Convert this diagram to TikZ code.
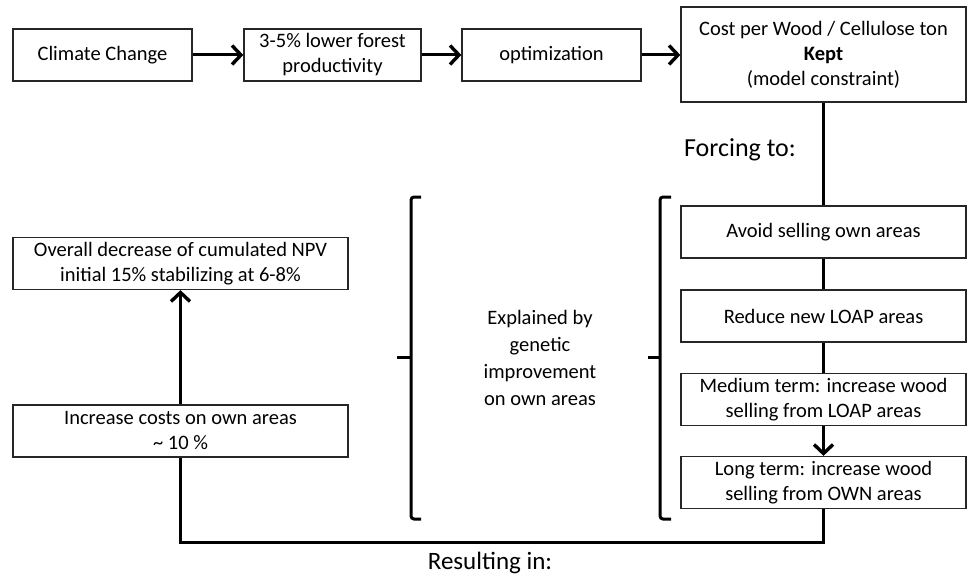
\documentclass[tikz,border=0pt]{standalone}
\usepackage{fontspec}
\setmainfont{Carlito}
\usetikzlibrary{arrows.meta}

\begin{document}
\begin{tikzpicture}
		[x=1pt,y=-1pt,
		box/.style={draw=black!85,line width=1.3pt,minimum height=52pt,
			align=center,inner sep=2pt,font=\fontsize{20.5}{25}\selectfont},
		link/.style={line width=3pt},
		arr/.style={link,-{Straight Barb[length=9pt,width=19pt,line width=3.4pt]}},
		brk/.style={line width=3pt,rounded corners=3pt},
		big/.style={anchor=base,font=\fontsize{26}{30}\selectfont}]
		\useasboundingbox (0,0) rectangle (967,578);
		\node[box,minimum width=179pt] (cc) at (102.5,55) {Climate Change};
		\node[box,minimum width=177pt] (prod) at (332.5,55) {3-5\% lower forest\\productivity};
		\node[box,minimum width=179pt] (opt) at (551.5,55) {optimization};
		\node[box,minimum width=285pt,minimum height=95pt] (cost) at (823.5,54.5)
			{Cost per Wood / Cellulose ton\\\textbf{Kept}\\(model constraint)};
		\node[box,minimum width=285pt] (avoid) at (823.5,232) {Avoid selling own areas};
		\node[box,minimum width=285pt] (reduce) at (823.5,316) {Reduce new LOAP areas};
		\node[box,minimum width=285pt] (medium) at (823.5,399.5)
			{Medium term: increase wood\\selling from LOAP areas};
		\node[box,minimum width=285pt] (long) at (823.5,482.5)
			{Long term: increase wood\\selling from OWN areas};
		\node[box,minimum width=335pt] (overall) at (180.5,263.5)
			{Overall decrease of cumulated NPV\\initial 15\% stabilizing at 6-8\%};
		\node[box,minimum width=335pt] (inc) at (180.5,431)
			{Increase costs on own areas\\\textasciitilde{} 10 \%};
		\node[big] (forcing) at (740,156) {Forcing to:};
		\node[big,font=\fontsize{25}{30}\selectfont] (result) at (490,569) {Resulting in:};
		\node[align=center,font=\fontsize{20.5}{27}\selectfont] (expl) at (540,358)
			{Explained by\\genetic\\improvement\\on own areas};
		\draw[arr] (cc) -- (prod);
		\draw[arr] (prod) -- (opt);
		\draw[arr] (opt.east) -- (opt.east -| cost.west);
		\draw[link] (cost) -- (avoid);
		\draw[link] (avoid) -- (reduce);
		\draw[link] (reduce) -- (medium);
		\draw[arr] (medium) -- (long);
		\draw[link] (long.south) -- ++(0,33) -| (inc.south);
		\draw[arr] (inc) -- (overall);
		\draw[brk] (421,197) -| (411,519) -- (421,519);
		\draw[brk] (397,357) -- (411,357);
		\draw[brk] (671,197) -| (660,519) -- (671,519);
		\draw[brk] (648,357) -- (660,357);
	\end{tikzpicture}
\end{document}
